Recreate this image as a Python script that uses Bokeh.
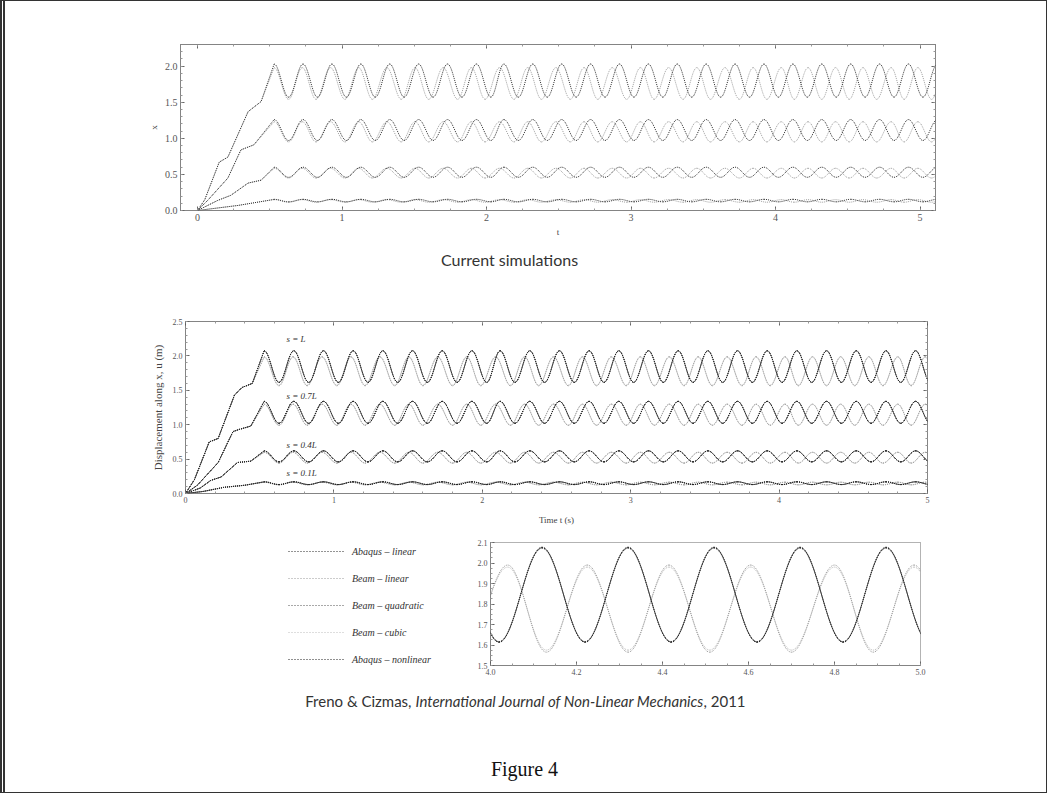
from bokeh.plotting import figure
from bokeh.models import (Range1d, LinearAxis, FixedTicker, Legend, LegendItem,
                          ColumnDataSource, PrintfTickFormatter, CustomJSTickFormatter, Spacer)
from bokeh.layouts import column, row
from bokeh.core.properties import value
from bokeh.embed import file_html
from bokeh.resources import INLINE

# ---------------- data ----------------
# turning points (alternating peak / trough) of the two phase groups, time in s
T_TURN_A = [0.53, 0.63, 0.73, 0.83, 0.93, 1.03, 1.13, 1.23, 1.33, 1.43, 1.53, 1.63,
            1.73, 1.83, 1.93, 2.03, 2.12, 2.22, 2.32, 2.42, 2.52, 2.62, 2.72, 2.82,
            2.92, 3.02, 3.12, 3.22, 3.32, 3.42, 3.52, 3.62, 3.72, 3.82, 3.92, 4.02,
            4.12, 4.22, 4.32, 4.42, 4.52, 4.62, 4.72, 4.82, 4.92, 5.02, 5.12]
T_TURN_B = [0.53, 0.63, 0.725, 0.82, 0.92, 1.02, 1.115, 1.21, 1.31, 1.41, 1.505, 1.60,
            1.70, 1.80, 1.895, 1.99, 2.09, 2.19, 2.285, 2.38, 2.48, 2.58, 2.675, 2.77,
            2.87, 2.97, 3.065, 3.16, 3.26, 3.36, 3.455, 3.55, 3.65, 3.75, 3.845, 3.94,
            4.04, 4.13, 4.225, 4.32, 4.415, 4.51, 4.605, 4.70, 4.80, 4.89, 4.985, 5.08,
            5.175]

LEVEL_LABELS = ["s = L", "s = 0.7L", "s = 0.4L", "s = 0.1L"]

# published results: start-up part of each level (before the first peak)
PUB_TR_T_L = [0.0, 0.06, 0.16, 0.22, 0.33, 0.38, 0.45]
PUB_TR_Y_L = [0.0, 0.20, 0.75, 0.80, 1.43, 1.54, 1.60]
PUB_TR_T_07 = [0.0, 0.08, 0.22, 0.32, 0.36, 0.44]
PUB_TR_Y_07 = [0.0, 0.12, 0.45, 0.90, 0.93, 0.98]
PUB_TR_T_04 = [0.0, 0.10, 0.17, 0.24, 0.35, 0.44]
PUB_TR_Y_04 = [0.0, 0.08, 0.19, 0.24, 0.45, 0.47]
PUB_TR_T_01 = [0.0, 0.12, 0.26, 0.40]
PUB_TR_Y_01 = [0.0, 0.03, 0.09, 0.12]

# peak / trough values per level [L, 0.7L, 0.4L, 0.1L]
MODELS = ["Abaqus \u2013 linear", "Beam \u2013 linear", "Beam \u2013 quadratic",
          "Beam \u2013 cubic", "Abaqus \u2013 nonlinear"]
ABQ_LIN_PEAK = [2.075, 1.34, 0.62, 0.17]
ABQ_LIN_TROUGH = [1.615, 1.02, 0.46, 0.13]
BEAM_LIN_PEAK = [1.99, 1.30, 0.60, 0.165]
BEAM_LIN_TROUGH = [1.565, 0.99, 0.44, 0.125]
BEAM_QUAD_PEAK = [2.072, 1.338, 0.619, 0.169]
BEAM_QUAD_TROUGH = [1.617, 1.022, 0.461, 0.131]
BEAM_CUB_PEAK = [1.98, 1.295, 0.597, 0.163]
BEAM_CUB_TROUGH = [1.575, 0.996, 0.446, 0.128]
ABQ_NL_PEAK = [2.077, 1.341, 0.621, 0.170]
ABQ_NL_TROUGH = [1.613, 1.019, 0.459, 0.129]

# current simulations
CUR_TR_T_L = [0.0, 0.05, 0.15, 0.21, 0.35, 0.44]
CUR_TR_Y_L = [0.0, 0.15, 0.67, 0.74, 1.37, 1.51]
CUR_TR_T_07 = [0.0, 0.07, 0.21, 0.30, 0.39]
CUR_TR_Y_07 = [0.0, 0.14, 0.45, 0.84, 0.91]
CUR_TR_T_04 = [0.0, 0.14, 0.23, 0.35, 0.44]
CUR_TR_Y_04 = [0.0, 0.14, 0.21, 0.38, 0.42]
CUR_TR_T_01 = [0.0, 0.28, 0.46]
CUR_TR_Y_01 = [0.0, 0.07, 0.13]
CUR_A_PEAK = [2.03, 1.26, 0.60, 0.155]
CUR_A_TROUGH = [1.57, 0.97, 0.46, 0.12]
CUR_B_PEAK = [1.98, 1.23, 0.585, 0.15]
CUR_B_TROUGH = [1.54, 0.95, 0.45, 0.115]

TOP_X_TICKS = [0, 1, 2, 3, 4, 5]
TOP_Y_TICKS = [0.0, 0.5, 1.0, 1.5, 2.0]
MID_X_TICKS = [0, 1, 2, 3, 4, 5]
MID_Y_TICKS = [0.0, 0.5, 1.0, 1.5, 2.0, 2.5]
INS_X_TICKS = [4.0, 4.2, 4.4, 4.6, 4.8, 5.0]
INS_Y_TICKS = [1.5, 1.6, 1.7, 1.8, 1.9, 2.0, 2.1]

# ---------------- drawing ----------------
K = 0.363  # bezier handle fraction (cosine-like half waves)
SERIF = "Liberation Serif"


def no_align(p):
    try:
        p.frame_align = False
    except Exception:
        pass


def add_series(p, t_turn, peak, trough, tr_t, tr_y, color, width=1.0, dash="1 1"):
    y_turn = [peak if i % 2 == 0 else trough for i in range(len(t_turn))]
    r_line = p.line(tr_t + [t_turn[0]], tr_y + [y_turn[0]], line_color=color,
                    line_width=width, line_dash=dash)
    x0 = t_turn[:-1]
    x1 = t_turn[1:]
    y0 = y_turn[:-1]
    y1 = y_turn[1:]
    cx0 = [a + K * (b - a) for a, b in zip(x0, x1)]
    cx1 = [b - K * (b - a) for a, b in zip(x0, x1)]
    src = ColumnDataSource(dict(x0=x0, y0=y0, x1=x1, y1=y1, cx0=cx0, cy0=y0,
                                cx1=cx1, cy1=y1))
    p.bezier(x0="x0", y0="y0", x1="x1", y1="y1", cx0="cx0", cy0="cy0",
             cx1="cx1", cy1="cy1", source=src, line_color=color,
             line_width=width, line_dash=dash)
    return r_line


def style_axes(p, size="9px"):
    p.grid.visible = False
    p.outline_line_color = "#666666"
    p.outline_line_dash = "1 1"
    p.outline_line_width = 1
    p.background_fill_color = "white"
    p.border_fill_color = "white"
    for ax in p.axis:
        ax.axis_line_color = "#555555"
        ax.axis_line_dash = "1 1"
        ax.major_tick_in = 4
        ax.major_tick_out = 0
        ax.minor_tick_in = 2
        ax.minor_tick_out = 0
        ax.major_tick_line_color = "#666666"
        ax.minor_tick_line_color = "#999999"
        ax.major_label_text_font = SERIF
        ax.major_label_text_font_size = size
        ax.major_label_text_color = "#555555"
        ax.major_label_standoff = 3
        ax.axis_label_text_font = SERIF
        ax.axis_label_text_font_style = "normal"
        ax.axis_label_text_color = "#444444"
        ax.axis_label_text_font_size = "9px"


def mirror_axes(p, xt, yt):
    kw = dict(axis_line_color=None, major_tick_in=4, major_tick_out=0,
              minor_tick_in=2, minor_tick_out=0,
              major_tick_line_color="#666666", minor_tick_line_color="#999999")
    top = LinearAxis(ticker=xt, formatter=CustomJSTickFormatter(code="return ''"), **kw)
    right = LinearAxis(ticker=yt, formatter=CustomJSTickFormatter(code="return ''"), **kw)
    p.add_layout(top, "above")
    p.add_layout(right, "right")


def blank(width, height, xr, yr):
    s = figure(x_range=xr, y_range=yr, frame_width=width, frame_height=height,
               min_border=0, x_axis_type=None, y_axis_type=None,
               toolbar_location=None, output_backend="svg")
    s.grid.visible = False
    s.outline_line_color = None
    s.background_fill_color = "white"
    s.border_fill_color = "white"
    no_align(s)
    return s


def strip(y_top, y_bot):
    return blank(1041, y_bot - y_top, Range1d(5, 1046), Range1d(y_bot, y_top))


DARK = "#333333"
GRAY = "#a0a0a0"

# ----- top panel: current simulations -----
p1 = figure(x_range=Range1d(-0.118, 5.107), y_range=Range1d(0, 2.3),
            frame_width=755, frame_height=166, min_border_left=60,
            min_border_right=111, min_border_top=43, min_border_bottom=36,
            toolbar_location=None, output_backend="svg")
no_align(p1)
xt1 = FixedTicker(ticks=TOP_X_TICKS, minor_ticks=[i * 0.25 for i in range(21)])
yt1 = FixedTicker(ticks=TOP_Y_TICKS, minor_ticks=[i * 0.1 for i in range(23)])
p1.xaxis.ticker = xt1
p1.yaxis.ticker = yt1
p1.xaxis.formatter = PrintfTickFormatter(format="%d")
p1.yaxis.formatter = PrintfTickFormatter(format="%.1f")
p1.xaxis.axis_label = "t"
p1.yaxis.axis_label = "x"
mirror_axes(p1, xt1, yt1)
style_axes(p1, size="10px")
p1.xaxis.axis_label_standoff = 3
p1.yaxis.axis_label_standoff = 3

cur_tr_t = [CUR_TR_T_L, CUR_TR_T_07, CUR_TR_T_04, CUR_TR_T_01]
cur_tr_y = [CUR_TR_Y_L, CUR_TR_Y_07, CUR_TR_Y_04, CUR_TR_Y_01]
for li in range(4):
    add_series(p1, T_TURN_B, CUR_B_PEAK[li], CUR_B_TROUGH[li], cur_tr_t[li], cur_tr_y[li], GRAY)
    add_series(p1, T_TURN_A, CUR_A_PEAK[li], CUR_A_TROUGH[li], cur_tr_t[li], cur_tr_y[li], DARK)

s1 = strip(246, 275)
s1.text(x=[509], y=[259], text=["Current simulations"], text_font=value("Lato"),
        text_font_size="16px", text_align="center", text_baseline="middle",
        text_color="#333333")

# ----- middle panel: published results -----
p2 = figure(x_range=Range1d(0, 5), y_range=Range1d(0, 2.5),
            frame_width=742, frame_height=172, min_border_left=60,
            min_border_right=119, min_border_top=46, min_border_bottom=37,
            toolbar_location=None, output_backend="svg")
no_align(p2)
xt2 = FixedTicker(ticks=MID_X_TICKS, minor_ticks=[i * 0.2 for i in range(26)])
yt2 = FixedTicker(ticks=MID_Y_TICKS, minor_ticks=[i * 0.1 for i in range(26)])
p2.xaxis.ticker = xt2
p2.yaxis.ticker = yt2
p2.xaxis.formatter = PrintfTickFormatter(format="%d")
p2.yaxis.formatter = PrintfTickFormatter(format="%.1f")
p2.xaxis.axis_label = "Time t (s)"
p2.yaxis.axis_label = "Displacement along x, u (m)"
mirror_axes(p2, xt2, yt2)
style_axes(p2, size="8px")
p2.xaxis.axis_label_standoff = 9
p2.yaxis.axis_label_standoff = 6
p2.yaxis.axis_label_text_font_size = "11px"

pub_tr_t = [PUB_TR_T_L, PUB_TR_T_07, PUB_TR_T_04, PUB_TR_T_01]
pub_tr_y = [PUB_TR_Y_L, PUB_TR_Y_07, PUB_TR_Y_04, PUB_TR_Y_01]
model_def = [
    (T_TURN_A, ABQ_LIN_PEAK, ABQ_LIN_TROUGH, "#2a2a2a"),
    (T_TURN_B, BEAM_LIN_PEAK, BEAM_LIN_TROUGH, "#9a9a9a"),
    (T_TURN_A, BEAM_QUAD_PEAK, BEAM_QUAD_TROUGH, "#555555"),
    (T_TURN_B, BEAM_CUB_PEAK, BEAM_CUB_TROUGH, "#bdbdbd"),
    (T_TURN_A, ABQ_NL_PEAK, ABQ_NL_TROUGH, "#222222"),
]
draw_order = [3, 1, 2, 0, 4]
for li in range(4):
    for mi in draw_order:
        tt, pk, tr, col = model_def[mi]
        add_series(p2, tt, pk[li], tr[li], pub_tr_t[li], pub_tr_y[li], col)

ANNOT_Y = [2.24, 1.42, 0.71, 0.30]
p2.text(x=[0.68] * 4, y=ANNOT_Y, text=LEVEL_LABELS, text_font=value(SERIF),
        text_font_style="italic", text_font_size="9px", text_baseline="middle",
        text_color="#333333")

# ----- inset (s = L, 4 s to 5 s) -----
p3 = figure(x_range=Range1d(4.0, 5.0), y_range=Range1d(1.5, 2.1),
            frame_width=430, frame_height=123, min_border_left=40,
            min_border_right=126, min_border_top=12, min_border_bottom=18,
            toolbar_location=None, output_backend="svg")
no_align(p3)
p3.xaxis.ticker = FixedTicker(ticks=INS_X_TICKS, minor_ticks=[4.0 + i * 0.05 for i in range(21)])
p3.yaxis.ticker = FixedTicker(ticks=INS_Y_TICKS, minor_ticks=[1.5 + i * 0.025 for i in range(25)])
p3.xaxis.formatter = PrintfTickFormatter(format="%.1f")
p3.yaxis.formatter = PrintfTickFormatter(format="%.1f")
style_axes(p3, size="8px")

for mi in draw_order:
    tt, pk, tr, col = model_def[mi]
    add_series(p3, tt, pk[0], tr[0], pub_tr_t[0], pub_tr_y[0], col, width=1.0)

# ----- legend panel (left of the inset); its lines are the same series, kept out of view -----
lg = figure(x_range=Range1d(10, 11), y_range=Range1d(10, 11),
            frame_width=167, frame_height=123, min_border_left=0,
            min_border_right=0, min_border_top=12, min_border_bottom=18,
            x_axis_type=None, y_axis_type=None, toolbar_location=None,
            output_backend="svg")
no_align(lg)
lg.grid.visible = False
lg.outline_line_color = None
lg.background_fill_color = "white"
lg.border_fill_color = "white"
legend_renderers = [None] * 5
for mi in range(5):
    tt, pk, tr, col = model_def[mi]
    legend_renderers[mi] = add_series(lg, tt, pk[0], tr[0], pub_tr_t[0], pub_tr_y[0], col,
                                      width=1.2, dash="1 2")

legend = Legend(items=[LegendItem(label=MODELS[i], renderers=[legend_renderers[i]]) for i in range(5)],
                location=(5, 0), glyph_width=57, glyph_height=12, label_height=12,
                spacing=15, padding=0, margin=0, border_line_color=None,
                background_fill_alpha=0, label_text_font=SERIF,
                label_text_font_style="italic", label_text_font_size="10px",
                label_standoff=7, label_text_color="#333333")
lg.add_layout(legend)

# ----- caption strip -----
s2 = strip(683, 792)
s2.text(x=[411], y=[700], text=["Freno & Cizmas,"], text_font=value("Lato"),
        text_font_size="15px", text_align="right", text_baseline="middle",
        text_color="#333333")
s2.text(x=[415], y=[700], text=["International Journal of Non-Linear Mechanics"],
        text_font=value("Lato"), text_font_style="italic", text_font_size="15px",
        text_align="left", text_baseline="middle", text_color="#333333")
s2.text(x=[703], y=[700], text=[", 2011"], text_font=value("Lato"),
        text_font_size="15px", text_align="left", text_baseline="middle",
        text_color="#333333")
s2.text(x=[524], y=[768], text=["Figure 4"], text_font=value(SERIF),
        text_font_size="20px", text_align="center", text_baseline="middle",
        text_color="#111111")

r1 = row(Spacer(width=115), p1, spacing=0)
r2 = row(Spacer(width=120), p2, spacing=0)
r3 = row(Spacer(width=278), lg, p3, spacing=0)

layout = column(r1, s1, r2, r3, s2, spacing=0,
                styles={"border-top": "1px solid #333", "border-right": "1px solid #333",
                        "border-bottom": "1px solid #333", "border-left": "5px double #333",
                        "background-color": "white"})

open("out.html", "w").write(file_html(layout, INLINE))
